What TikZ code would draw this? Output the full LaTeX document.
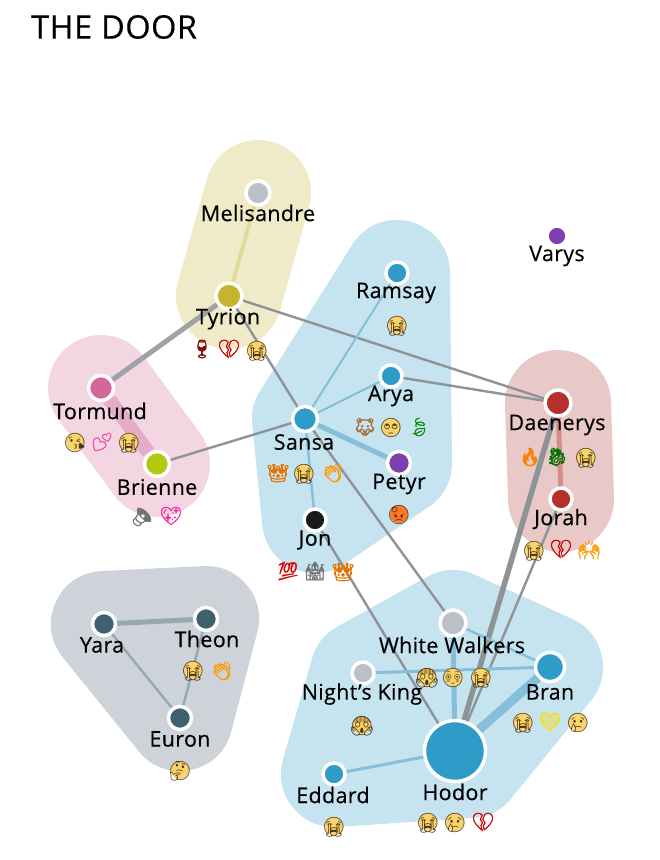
\documentclass[tikz,border=0pt]{standalone}
\usepackage{fontspec}
\setmainfont{Open Sans}[FakeBold=0.35,LetterSpace=1.5]
\newfontfamily\emo{Noto Emoji}
\newfontfamily\emofat{Noto Emoji}[FakeBold=1.6]
\newcommand{\faceglyph}[1]{\raisebox{-.37em}[0pt][0pt]{\makebox[0pt]{#1}}}
\pgfdeclarelayer{bg}
\pgfsetlayers{bg,main}
\definecolor{blobblue}{HTML}{C6E4F0}
\definecolor{blobyellow}{HTML}{EFEBC9}
\definecolor{blobpink}{HTML}{F3D6E2}
\definecolor{blobred}{HTML}{E8C9C8}
\definecolor{blobgrey}{HTML}{CDD3D9}
\definecolor{nblue}{HTML}{2E9BC9}
\definecolor{nyellow}{HTML}{C8B32E}
\definecolor{npink}{HTML}{D2679A}
\definecolor{ngreen}{HTML}{B2C90F}
\definecolor{nsilver}{HTML}{BCC0C6}
\definecolor{npurple}{HTML}{7D3FAE}
\definecolor{nblack}{HTML}{1A1A1A}
\definecolor{nred}{HTML}{B5302A}
\definecolor{nslate}{HTML}{40606F}
\definecolor{egrey}{HTML}{8E9396}
\definecolor{eblue}{HTML}{85BFDA}
\definecolor{faceyellow}{HTML}{F9D468}
\tikzset{
  x=1pt,y=-1pt,
  person/.style={circle,inner sep=0pt,draw=white,line width=3.5pt,minimum size=#1},
  plabel/.style={font=\fontsize{21.5}{22}\selectfont,text=black,inner sep=0pt},
  blob/.style={line join=round,line width=106pt,draw=#1,fill=#1},
  lgrey/.style={draw=egrey,line width=#1},
  lblue/.style={draw=eblue,line width=#1},
  emoji/.style={font=\emofat\fontsize{18}{18}\selectfont,inner sep=0pt,text=#1},
  face/.style={font=\emo\fontsize{19}{19}\selectfont,inner sep=0pt,text=black!60!brown,circle,fill=faceyellow,minimum size=18pt},
}
\begin{document}
\begin{tikzpicture}
\useasboundingbox (0,0) rectangle (660,860);
% people
\node[person=24pt,fill=nsilver] (melisandre) at (258,193) {};
\node[person=26pt,fill=nyellow] (tyrion) at (229,296) {};
\node[person=25pt,fill=npink] (tormund) at (101,388) {};
\node[person=25pt,fill=ngreen] (brienne) at (157,464) {};
\node[person=25pt,fill=nblue] (sansa) at (305,419) {};
\node[person=22pt,fill=nblue] (ramsay) at (397,273) {};
\node[person=22pt,fill=nblue] (arya) at (391,376) {};
\node[person=23pt,fill=npurple] (petyr) at (399,463) {};
\node[person=22pt,fill=nblack] (jon) at (315,520) {};
\node[person=20pt,fill=npurple] (varys) at (557,236) {};
\node[person=26pt,fill=nred] (daenerys) at (558,403) {};
\node[person=22pt,fill=nred] (jorah) at (561,499) {};
\node[person=26pt,fill=nsilver] (walkers) at (453,623) {};
\node[person=22pt,fill=nsilver] (nightking) at (363,673) {};
\node[person=29pt,fill=nblue] (bran) at (550,667) {};
\node[person=61pt,fill=nblue] (hodor) at (455,751) {};
\node[person=22pt,fill=nblue] (eddard) at (334,774) {};
\node[person=23pt,fill=nslate] (yara) at (104,624) {};
\node[person=23pt,fill=nslate] (theon) at (206,619) {};
\node[person=23pt,fill=nslate] (euron) at (180,718) {};
\coordinate (hodorbulge) at (470,765);
\begin{pgfonlayer}{bg}
\path[blob=blobyellow] (melisandre.center) -- (tyrion.center) -- cycle;
\path[blob=blobpink] (tormund.center) -- (brienne.center) -- cycle;
\path[blob=blobred] (daenerys.center) -- (jorah.center) -- cycle;
\path[blob=blobblue] (ramsay.center) -- (petyr.center) -- (jon.center) -- (sansa.center) -- cycle;
\path[blob=blobblue] (walkers.center) -- (bran.center) -- (hodorbulge) -- (eddard.center) -- (nightking.center) -- cycle;
\path[blob=blobgrey] (yara.center) -- (theon.center) -- (euron.center) -- cycle;
\end{pgfonlayer}
% connectors
\draw[draw=blobyellow!70!nyellow,line width=4pt] (melisandre) -- (tyrion);
\draw[draw=egrey!85!white,line width=5pt] (tyrion) -- (tormund);
\draw[draw=npink!55!white,line width=14pt] (tormund) -- (brienne);
\draw[lgrey=2.4pt] (brienne) -- (sansa);
\draw[lgrey=2.4pt] (tyrion) -- (sansa);
\draw[lgrey=2.4pt] (tyrion) -- (daenerys);
\draw[lgrey=2.4pt] (arya) -- (daenerys);
\draw[lblue=2pt] (sansa) -- (ramsay);
\draw[lblue=2pt] (sansa) -- (arya);
\draw[lblue=5pt] (sansa) -- (petyr);
\draw[lblue=2.4pt] (sansa) -- (jon);
\draw[lgrey=2.4pt] (sansa) -- (walkers);
\draw[lgrey=2.4pt] (jon) -- (hodor);
\draw[lgrey=5.5pt] (daenerys) -- (hodor);
\draw[lgrey=2.4pt] (jorah) -- (hodor);
\draw[draw=nred!55!white,line width=5pt] (daenerys) -- (jorah);
\draw[lblue=5pt] (walkers) -- (hodor);
\draw[lblue=2.4pt] (walkers) -- (bran);
\draw[lblue=3pt] (nightking) -- (bran);
\draw[lblue=9pt] (bran) -- (hodor);
\draw[lblue=3pt] (eddard) -- (hodor);
\draw[draw=nslate!55!white,line width=5pt] (yara) -- (theon);
\draw[draw=nslate!55!white,line width=2.4pt] (yara) -- (euron);
\draw[draw=nslate!55!white,line width=2.4pt] (theon) -- (euron);
% title
\node[anchor=west,inner sep=0pt,font=\fontsize{32.5}{34}\selectfont] (title) at (31,27) {THE DOOR};
% labels
\node[plabel] (lmelisandre) at (258,213) {Melisandre};
\node[plabel] (ltyrion) at (228,319) {Tyrion};
\node[plabel] (ltormund) at (100,411) {Tormund};
\node[plabel] (lbrienne) at (157,487) {Brienne};
\node[plabel] (lsansa) at (304,442) {Sansa};
\node[plabel] (lramsay) at (396,293) {Ramsay};
\node[plabel] (larya) at (391,396) {Arya};
\node[plabel] (lpetyr) at (399,484) {Petyr};
\node[plabel] (ljon) at (315,540) {Jon};
\node[plabel] (lvarys) at (557,256) {Varys};
\node[plabel] (ldaenerys) at (557,425) {Daenerys};
\node[plabel] (ljorah) at (561,519) {Jorah};
\node[plabel] (lwalkers) at (452,645) {White Walkers};
\node[plabel] (lnightking) at (362,694) {Night's King};
\node[plabel] (lbran) at (550,692) {Bran};
\node[plabel] (lhodor) at (455,792) {Hodor};
\node[plabel] (leddard) at (333,795) {Eddard};
\node[plabel] (lyara) at (102,645) {Yara};
\node[plabel] (ltheon) at (207,639) {Theon};
\node[plabel] (leuron) at (180,739) {Euron};
% emoji
\node[emoji=red!50!black] (e1) at (202,349) {🍷};
\node[emoji=red!80!black] (e2) at (229,349) {💔};
\node[face] (e3) at (257,350) {\faceglyph{😭}};
\node[face] (e4) at (75,442) {\faceglyph{😘}};
\node[emoji=magenta!70!white] (e5) at (102,442) {💕};
\node[face] (e6) at (129,442) {\faceglyph{😭}};
\node[emoji=black!55] (e7) at (142,517) {🔈};
\node[emoji=magenta!80!white] (e8) at (171,516) {💖};
\node[emoji=orange!90!black] (e9) at (278,473) {👑};
\node[face] (e10) at (304,473) {\faceglyph{😭}};
\node[emoji=orange!80!yellow] (e11) at (333,473) {👏};
\node[face] (e12) at (397,325) {\faceglyph{😭}};
\node[emoji=brown!85!black] (e13) at (365,427) {🐺};
\node[face] (e14) at (391,427) {\faceglyph{🙄}};
\node[emoji=green!55!black] (e15) at (419,427) {🍃};
\node[face,fill=orange!75!red!85!white] (e16) at (399,514) {\faceglyph{😡}};
\node[emoji=red!85!black] (e17) at (288,571) {💯};
\node[emoji=black!55] (e18) at (315,571) {🏰};
\node[emoji=orange!90!black] (e19) at (343,572) {👑};
\node[emoji=orange] (e20) at (530,457) {🔥};
\node[emoji=green!45!black] (e21) at (557,457) {🐉};
\node[face] (e22) at (586,457) {\faceglyph{😭}};
\node[face] (e23) at (534,550) {\faceglyph{😭}};
\node[emoji=red!80!black] (e24) at (561,549) {💔};
\node[emoji=orange!80!yellow] (e25) at (589,550) {🙌};
\node[face] (e26) at (427,677) {\faceglyph{😱}};
\node[face] (e27) at (453,677) {\faceglyph{😳}};
\node[face] (e28) at (481,677) {\faceglyph{😭}};
\node[face] (e29) at (362,725) {\faceglyph{😱}};
\node[face] (e30) at (523,722) {\faceglyph{😭}};
\node[emoji=yellow!80!orange] (e31) at (550,722) {💛};
\node[face] (e32) at (578,722) {\faceglyph{😢}};
\node[face] (e33) at (428,822) {\faceglyph{😭}};
\node[face] (e34) at (455,822) {\faceglyph{😢}};
\node[emoji=red!80!black] (e35) at (483,822) {💔};
\node[face] (e36) at (334,826) {\faceglyph{😭}};
\node[face] (e37) at (193,670) {\faceglyph{😭}};
\node[emoji=orange!80!yellow] (e38) at (222,671) {👏};
\node[face] (e39) at (180,770) {\faceglyph{🤔}};
\end{tikzpicture}
\end{document}
